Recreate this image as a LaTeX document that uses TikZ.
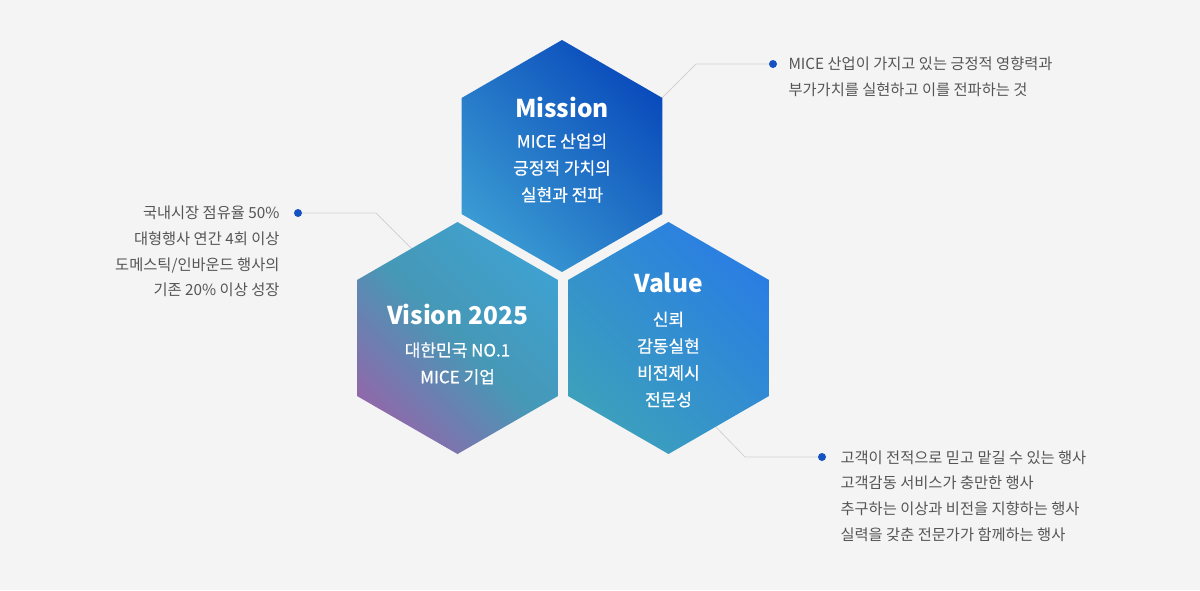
\documentclass[tikz,border=0pt]{standalone}
\usepackage{fontspec}
\setmainfont{Noto Sans CJK KR}
\newfontfamily\krmed{Noto Sans CJK KR}[FakeBold=0.6]
\usetikzlibrary{shapes.geometric}

\definecolor{bgc}{HTML}{F4F4F4}
\definecolor{linec}{HTML}{D2D2D2}
\definecolor{dotc}{HTML}{1553C0}
\definecolor{notec}{HTML}{555555}
\definecolor{misA}{HTML}{0A4CBC}
\definecolor{misB}{HTML}{3A9AD2}
\definecolor{visA}{HTML}{3FA1D0}
\definecolor{visM}{HTML}{4698B6}
\definecolor{visB}{HTML}{9068AA}
\definecolor{valA}{HTML}{2A7EE2}
\definecolor{valB}{HTML}{3CA0BC}

\pgfdeclareverticalshading{visShade}{100bp}{color(0bp)=(visB); color(24bp)=(visB);
  color(50bp)=(visM); color(75bp)=(visA); color(100bp)=(visA)}

\tikzset{
  hexa/.style={regular polygon, regular polygon sides=6, shape border rotate=30,
    minimum size=232pt, inner sep=0pt, outer sep=0pt, shading angle=-45},
  ttl/.style={text=white, font=\bfseries\fontsize{24.5}{30}\selectfont},
  body/.style={text=white, align=center, font=\krmed\fontsize{17}{26.8}\selectfont},
  note/.style={text=notec, font=\fontsize{15.3}{25.7}\selectfont},
  link/.style={draw=linec, line width=0.8pt},
  dot/.style={circle, fill=dotc, minimum size=8pt, inner sep=0pt}
}

\begin{document}
\begin{tikzpicture}[x=1pt,y=1pt]
\fill[bgc] (0,0) rectangle (1200,-590);
\useasboundingbox (0,0) rectangle (1200,-590);

% dots and connectors
\node[dot] (misDot) at (773,-64) {};
\node[dot] (visDot) at (298,-213) {};
\node[dot] (valDot) at (822,-457) {};
\coordinate (misBend) at (696,-64);
\coordinate (misEnd) at (660,-100);
\coordinate (visBend) at (376,-213);
\coordinate (visEnd) at (414,-251);
\coordinate (valBend) at (745,-457);
\coordinate (valEnd) at (714,-425);
\draw[link] (misDot) -- (misBend) -- (misEnd);
\draw[link] (visDot) -- (visBend) -- (visEnd);
\draw[link] (valDot) -- (valBend) -- (valEnd);

% hexagons
\node[hexa, top color=misA, bottom color=misB, shading angle=-45] (mis) at (562,-156) {};
\node[hexa, shading=visShade, shading angle=-45] (vis) at (457.5,-338) {};
\node[hexa, top color=valA, bottom color=valB, shading angle=-45] (val) at (668.5,-338) {};

\node[ttl] (misT) at ([yshift=49pt]mis.center) {Mission};
\node[body] (misX) at ([yshift=-12pt]mis.center) {MICE 산업의\\긍정적 가치의\\실현과 전파};
\node[ttl] (visT) at ([yshift=24pt]vis.center) {Vision 2025};
\node[body] (visX) at ([yshift=-25.5pt]vis.center) {대한민국 NO.1\\MICE 기업};
\node[ttl] (valT) at ([yshift=55pt]val.center) {Value};
\node[body] (valX) at ([yshift=-21.5pt]val.center) {신뢰\\감동실현\\비전제시\\전문성};

% notes
\node[note, align=left, anchor=west] (misN) at ([xshift=12pt,yshift=-12.5pt]misDot.center)
  {MICE 산업이 가지고 있는 긍정적 영향력과\\부가가치를 실현하고 이를 전파하는 것};
\node[note, align=right, anchor=east] (visN) at ([xshift=-15pt,yshift=-38.5pt]visDot.center)
  {국내시장 점유율 50\%\\대형행사 연간 4회 이상\\도메스틱/인바운드 행사의\\기존 20\% 이상 성장};
\node[note, align=left, anchor=west] (valN) at ([xshift=15pt,yshift=-39pt]valDot.center)
  {고객이 전적으로 믿고 맡길 수 있는 행사\\고객감동 서비스가 충만한 행사\\추구하는 이상과 비전을 지향하는 행사\\실력을 갖춘 전문가가 함께하는 행사};
\end{tikzpicture}
\end{document}
